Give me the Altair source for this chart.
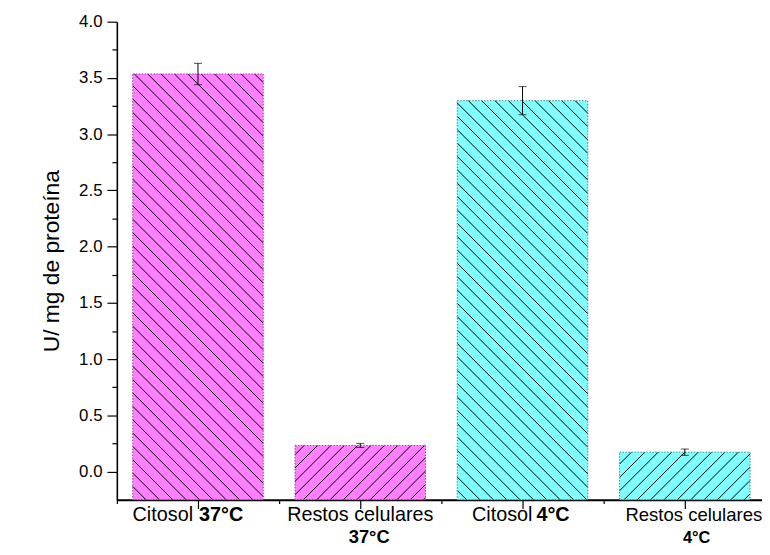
import math
import altair as alt
import pandas as pd

# ---------------- data ----------------
categories = ["Citosol 37°C", "Restos celulares 37°C", "Citosol 4°C", "Restos celulares 4°C"]
values = [3.535, 0.232, 3.298, 0.172]
errors = [0.095, 0.018, 0.125, 0.028]
label_plain = ["Citosol", "Restos celulares", "Citosol", "Restos celulares"]
label_bold = ["37°C", "37°C", "4°C", "4°C"]
y_tick_values = [0.0, 0.25, 0.5, 0.75, 1.0, 1.25, 1.5, 1.75, 2.0, 2.25, 2.5, 2.75,
                 3.0, 3.25, 3.5, 3.75, 4.0]
x_tick_values = [-0.5, 0, 0.5, 1, 1.5, 2, 2.5, 3]

# ---------------- styles / layout ----------------
bar_fill = ["#FF80FF", "#FF80FF", "#80FFFF", "#80FFFF"]
bar_edge = ["#9a3c9a", "#9a3c9a", "#2f8f8f", "#2f8f8f"]
hatch_dir = ["back", "fwd", "back", "fwd"]
FONT = "Liberation Sans"
W, H = 652, 483
STEP_PX = 164.0
XMIN = -0.5
XMAX = XMIN + W / STEP_PX
YMIN, YMAX = -0.25, 4.0
HALF = 0.402
HATCH_PX = 13.5

n = len(categories)
bars = pd.DataFrame({
    "idx": list(range(n)),
    "cat": categories,
    "value": values,
    "err": errors,
    "plain": label_plain,
    "bold": label_bold,
    "fill": bar_fill,
    "edge": bar_edge,
})
bars["lo"] = bars["value"] - bars["err"]
bars["hi"] = bars["value"] + bars["err"]
bars["x0"] = bars["idx"] - HALF
bars["x1"] = bars["idx"] + HALF
bars["base"] = YMIN

# hatch lines (decoration) derived from the bar rectangles, in data units
Sx = W / (XMAX - XMIN)
Sy = H / (YMAX - YMIN)
rows = []
for i, v in enumerate(values):
    L, R = (i - HALF) * Sx, (i + HALF) * Sx
    B, T = YMIN * Sy, v * Sy
    h = HATCH_PX
    if hatch_dir[i] == "back":  # Y = b - X
        k0, k1 = math.ceil((L + B) / h), math.floor((R + T) / h)
        for k in range(k0, k1 + 1):
            b = k * h
            xs, xe = max(L, b - T), min(R, b - B)
            if xe - xs > 0.5:
                rows.append({"hx": xs / Sx, "hy": (b - xs) / Sy, "hx2": xe / Sx, "hy2": (b - xe) / Sy})
    else:  # Y = X + b
        k0, k1 = math.ceil((B - R) / h), math.floor((T - L) / h)
        for k in range(k0, k1 + 1):
            b = k * h
            xs, xe = max(L, B - b), min(R, T - b)
            if xe - xs > 0.5:
                rows.append({"hx": xs / Sx, "hy": (xs + b) / Sy, "hx2": xe / Sx, "hy2": (xe + b) / Sy})
hatch = pd.DataFrame(rows)

xscale = alt.Scale(domain=[XMIN, XMAX], nice=False, zero=False)
yscale = alt.Scale(domain=[YMIN, YMAX], nice=False, zero=False)

xaxis = alt.Axis(
    values=x_tick_values, labels=False, title=None, grid=False,
    tickSize={"condition": {"test": "datum.value % 1 === 0", "value": 9}, "value": 4},
    tickColor="black", tickWidth=1.2, domainColor="black", domainWidth=2,
)
yaxis = alt.Axis(
    values=y_tick_values, grid=False, title="U/ mg de proteína",
    labelExpr="datum.value % 0.5 === 0 ? format(datum.value, '.1f') : ''",
    tickSize={"condition": {"test": "datum.value % 0.5 === 0", "value": 10}, "value": 5},
    tickColor="black", tickWidth=1.2, domainColor="black", domainWidth=1.6,
    labelFontSize=17, labelPadding=5, labelColor="black", labelFont=FONT,
    titleFontSize=23, titleFont=FONT, titleFontWeight="normal", titleColor="black",
    titleAngle=270, titleX=-66, titleY=H / 2, titleAlign="center", titleBaseline="middle",
)

X = lambda f: alt.X(f, type="quantitative", scale=xscale, axis=xaxis)
Y = lambda f: alt.Y(f, type="quantitative", scale=yscale, axis=yaxis)

base = alt.Chart(bars)

fill_layer = base.mark_rect(strokeWidth=0).encode(
    x=X("x0"), x2="x1", y=Y("base"), y2="value",
    fill=alt.Fill("fill:N", scale=None),
)

hatch_layer = alt.Chart(hatch).mark_rule(color="black", strokeWidth=1.0).encode(
    x=X("hx"), y=Y("hy"), x2="hx2", y2="hy2",
)

edge_layer = base.mark_rect(fillOpacity=0, strokeWidth=1, strokeDash=[1.5, 1.5]).encode(
    x=X("x0"), x2="x1", y=Y("base"), y2="value",
    stroke=alt.Stroke("edge:N", scale=None),
)

err_rule = base.mark_rule(color="black", strokeWidth=1).encode(
    x=X("idx"), y=Y("lo"), y2="hi",
)
cap_lo = base.mark_tick(orient="horizontal", size=8, thickness=1, color="black").encode(
    x=X("idx"), y=Y("lo"),
)
cap_hi = base.mark_tick(orient="horizontal", size=8, thickness=1, color="black").encode(
    x=X("idx"), y=Y("hi"),
)

# category labels (plain + bold parts)
L1, L2 = 505, 527
label_layout = [
    (0, "plain", "right", -5, L1, 20, "normal"),
    (0, "bold", "left", 1, L1, 20, "bold"),
    (1, "plain", "center", 0, L1, 20, "normal"),
    (1, "bold", "center", 9, L2, 18.5, "bold"),
    (2, "plain", "right", 10, L1, 20, "normal"),
    (2, "bold", "left", 14, L1, 20, "bold"),
    (3, "plain", "left", -60, L1, 18.7, "normal"),
    (3, "bold", "center", 12, L2, 16.5, "bold"),
]
label_layers = []
for i, field, align, dx, ypx, size, weight in label_layout:
    label_layers.append(
        base.transform_filter(f"datum.idx == {i}").mark_text(
            align=align, dx=dx, baseline="alphabetic", fontSize=size,
            fontWeight=weight, font=FONT, color="black",
        ).encode(x=X("idx"), y=alt.value(ypx), text=f"{field}:N")
    )

chart = alt.layer(
    fill_layer, hatch_layer, edge_layer, err_rule, cap_lo, cap_hi, *label_layers
).properties(
    width=W, height=H,
    autosize=alt.AutoSizeParams(type="none"),
    padding={"left": 110, "top": 11, "right": 0, "bottom": 45},
).configure_view(stroke=None).configure_axis(labelFont=FONT, titleFont=FONT)

chart.save("out.html", embed_options={"renderer": "svg", "actions": False})
